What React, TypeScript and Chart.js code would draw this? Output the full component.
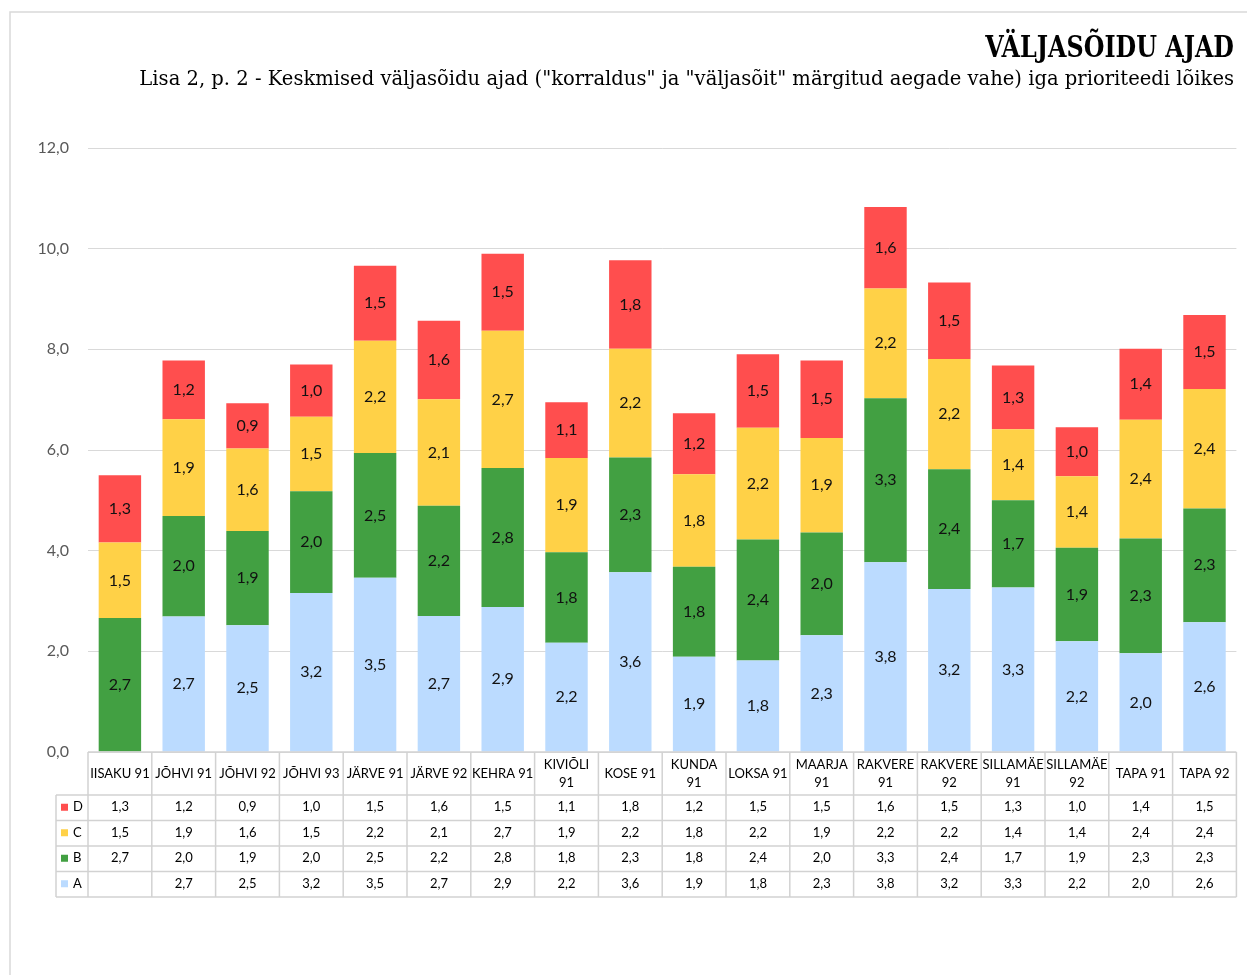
import { useEffect, useRef } from "react";
import { Chart, registerables } from "chart.js";

Chart.register(...registerables);

const TITLE = "VÄLJASÕIDU AJAD";
const SUBTITLE =
  'Lisa 2, p. 2 - Keskmised väljasõidu ajad ("korraldus" ja "väljasõit" märgitud aegade vahe) iga prioriteedi lõikes';

const categories: (string | string[])[] = [
  "IISAKU 91",
  "JÕHVI 91",
  "JÕHVI 92",
  "JÕHVI 93",
  "JÄRVE 91",
  "JÄRVE 92",
  "KEHRA 91",
  ["KIVIÕLI", "91"],
  "KOSE 91",
  ["KUNDA", "91"],
  "LOKSA 91",
  ["MAARJA", "91"],
  ["RAKVERE", "91"],
  ["RAKVERE", "92"],
  ["SILLAMÄE", "91"],
  ["SILLAMÄE", "92"],
  "TAPA 91",
  "TAPA 92",
];

const valuesA: (number | null)[] = [null, 2.69, 2.52, 3.16, 3.46, 2.7, 2.88, 2.17, 3.57, 1.89, 1.82, 2.32, 3.77, 3.24, 3.27, 2.2, 1.96, 2.58];
const valuesB: (number | null)[] = [2.66, 2.0, 1.87, 2.02, 2.48, 2.19, 2.76, 1.8, 2.28, 1.79, 2.4, 2.04, 3.26, 2.38, 1.73, 1.86, 2.28, 2.26];
const valuesC: (number | null)[] = [1.5, 1.92, 1.64, 1.48, 2.23, 2.12, 2.73, 1.87, 2.16, 1.84, 2.22, 1.88, 2.18, 2.19, 1.41, 1.42, 2.36, 2.37];
const valuesD: (number | null)[] = [1.34, 1.17, 0.9, 1.04, 1.49, 1.56, 1.53, 1.11, 1.76, 1.21, 1.46, 1.54, 1.62, 1.52, 1.27, 0.97, 1.41, 1.47];

const seriesNames = ["A", "B", "C", "D"];
const seriesColors = ["#BBDBFF", "#42A042", "#FFD147", "#FF4E4E"];
const Y_MIN = 0;
const Y_MAX = 12;
const Y_STEP = 2;

const fmt = (v: number) => v.toFixed(1).replace(".", ",");

function fitFont(ctx: CanvasRenderingContext2D, text: string, weight: string, family: string, width: number) {
  ctx.font = `${weight} 20px ${family}`;
  const w = ctx.measureText(text).width;
  const size = (20 * width) / w;
  ctx.font = `${weight} ${size}px ${family}`;
}

export default function App() {
  const ref = useRef<HTMLCanvasElement | null>(null);

  useEffect(() => {
    if (!ref.current) return;
    const seriesValues = [valuesA, valuesB, valuesC, valuesD];

    const labelPlugin = {
      id: "segLabels",
      afterDatasetsDraw(chart: any) {
        const ctx = chart.ctx;
        ctx.save();
        ctx.font = "16px Lato";
        ctx.fillStyle = "#111";
        ctx.textAlign = "center";
        ctx.textBaseline = "middle";
        chart.data.datasets.forEach((ds: any, di: number) => {
          const meta = chart.getDatasetMeta(di);
          meta.data.forEach((bar: any, i: number) => {
            const v = ds.data[i];
            if (v == null) return;
            ctx.fillText(fmt(v), bar.x, (bar.y + bar.base) / 2);
          });
        });
        ctx.restore();
      },
    };

    const framePlugin = {
      id: "frameTitle",
      beforeDraw(chart: any) {
        const ctx = chart.ctx;
        ctx.save();
        ctx.strokeStyle = "#d9d9d9";
        ctx.lineWidth = 1.5;
        ctx.beginPath();
        ctx.moveTo(10, 975);
        ctx.lineTo(10, 12);
        ctx.lineTo(1247, 12);
        ctx.stroke();
        ctx.fillStyle = "#000";
        ctx.textAlign = "right";
        ctx.textBaseline = "alphabetic";
        fitFont(ctx, TITLE, "bold", "'DejaVu Serif Condensed', 'DejaVu Serif'", 249);
        ctx.save();
        ctx.translate(1234, 57);
        ctx.scale(1, 1.12);
        ctx.fillText(TITLE, 0, 0);
        ctx.restore();
        fitFont(ctx, SUBTITLE, "normal", "'DejaVu Serif'", 1095);
        ctx.fillText(SUBTITLE, 1234, 85);
        ctx.restore();
      },
    };

    const tablePlugin = {
      id: "dataTable",
      afterDraw(chart: any) {
        const ctx = chart.ctx;
        const xs = chart.scales.x;
        const area = chart.chartArea;
        const n = categories.length;
        const colW = (xs.right - xs.left) / n;
        const top = area.bottom;
        const headerH = 43;
        const rowH = 25.5;
        const legendLeft = 56;
        const bottom = top + headerH + rowH * 4;
        ctx.save();
        ctx.strokeStyle = "#d2d2d2";
        ctx.lineWidth = 1.5;
        const line = (x1: number, y1: number, x2: number, y2: number) => {
          ctx.beginPath();
          ctx.moveTo(x1, y1);
          ctx.lineTo(x2, y2);
          ctx.stroke();
        };
        line(xs.left, top, xs.right, top);
        for (let r = 0; r <= 4; r++) {
          const y = top + headerH + r * rowH;
          line(legendLeft, y, xs.right, y);
        }
        for (let i = 0; i <= n; i++) {
          const x = xs.left + i * colW;
          line(x, top, x, bottom);
        }
        line(legendLeft, top + headerH, legendLeft, bottom);

        ctx.fillStyle = "#000";
        ctx.font = "13px Lato";
        ctx.textAlign = "center";
        ctx.textBaseline = "middle";
        categories.forEach((c, i) => {
          const lines = Array.isArray(c) ? c : [c];
          const lh = 18;
          const cx = xs.left + (i + 0.5) * colW;
          const y0 = top + headerH / 2 - ((lines.length - 1) * lh) / 2;
          lines.forEach((t, k) => ctx.fillText(t, cx, y0 + k * lh));
        });

        const order = [3, 2, 1, 0];
        order.forEach((si, r) => {
          const cy = top + headerH + r * rowH + rowH / 2 - 0.5;
          ctx.fillStyle = seriesColors[si];
          ctx.fillRect(61, cy - 3.5, 7, 7);
          ctx.fillStyle = "#000";
          ctx.textAlign = "left";
          ctx.fillText(seriesNames[si], 73, cy);
          ctx.textAlign = "center";
          seriesValues[si].forEach((v, i) => {
            if (v == null) return;
            ctx.fillText(fmt(v), xs.left + (i + 0.5) * colW, cy);
          });
        });
        ctx.restore();
      },
    };

    const chart = new Chart(ref.current, {
      type: "bar",
      data: {
        labels: categories.map((c) => (Array.isArray(c) ? c.join(" ") : c)),
        datasets: seriesValues.map((vals, i) => ({
          label: seriesNames[i],
          data: vals,
          backgroundColor: seriesColors[i],
          borderWidth: 0,
          categoryPercentage: 1,
          barPercentage: 0.665,
        })),
      },
      options: {
        responsive: false,
        animation: false,
        events: [],
        layout: { padding: { left: 10, top: 148, right: 10.6, bottom: 223 } },
        plugins: {
          legend: { display: false },
          tooltip: { enabled: false },
          title: { display: false },
        },
        scales: {
          x: { stacked: true, display: false },
          y: {
            stacked: true,
            min: Y_MIN,
            max: Y_MAX,
            border: { display: false },
            grid: { color: "#d9d9d9", lineWidth: 1, drawTicks: false },
            ticks: {
              stepSize: Y_STEP,
              padding: 19,
              color: "#595959",
              font: { family: "Lato", size: 16 },
              callback: (v: any) => fmt(Number(v)),
            },
            afterFit: (scale: any) => {
              scale.width = 78;
            },
          },
        },
      },
      plugins: [framePlugin, labelPlugin, tablePlugin],
    });
    return () => chart.destroy();
  }, []);

  return (
    <div style={{ position: "fixed", left: 0, top: 0, width: 1247, height: 975 }}>
      <canvas ref={ref} width={1247} height={975} style={{ display: "block" }} />
    </div>
  );
}
